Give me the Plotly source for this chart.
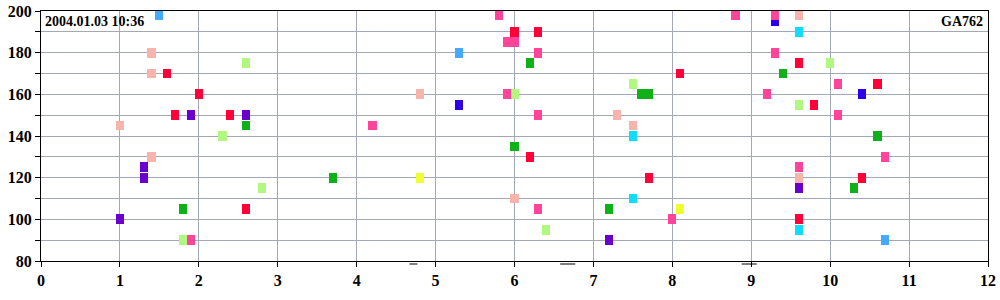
import plotly.graph_objects as go

# ---- data (x position, y value) per colour group ----
salmon_x = [1.4, 1.4, 1.0, 1.4, 4.8, 6.0, 7.3, 7.5, 9.6, 9.6]
salmon_y = [180, 170, 145, 130, 160, 110, 150, 145, 198, 120]
lightgreen_x = [2.6, 2.3, 2.8, 1.8, 6.0, 6.4, 7.5, 10.0, 9.6]
lightgreen_y = [175, 140, 115, 90, 160, 95, 165, 175, 155]
green_x = [2.6, 1.8, 3.7, 6.2, 6.0, 7.6, 7.7, 7.2, 9.4, 10.6, 10.3]
green_y = [145, 105, 120, 175, 135, 160, 160, 105, 170, 140, 115]
purple_x = [1.9, 2.6, 1.3, 1.3, 1.0, 7.2, 9.6]
purple_y = [150, 150, 125, 120, 100, 90, 115]
blue_x = [5.3, 9.3, 10.4]
blue_y = [155, 195, 160]
cyan_x = [7.5, 7.5, 9.6, 9.6]
cyan_y = [140, 110, 190, 95]
lightblue_x = [1.5, 5.3, 10.7]
lightblue_y = [198, 180, 90]
yellow_x = [4.8, 8.1]
yellow_y = [120, 105]
red_x = [1.6, 2.0, 1.7, 2.4, 2.6, 6.0, 6.3, 6.2, 8.1, 7.7, 9.6, 9.8, 10.6, 10.4, 9.6]
red_y = [170, 160, 150, 150, 105, 190, 190, 130, 170, 120, 175, 155, 165, 120, 100]
pink_x = [1.9, 4.2, 5.8, 5.9, 6.0, 6.3, 5.9, 6.3, 6.3, 8.0, 8.8, 9.3, 9.3, 9.2, 10.1, 10.1, 10.7, 9.6]
pink_y = [90, 145, 198, 185, 185, 180, 160, 150, 105, 100, 198, 198, 180, 160, 165, 150, 130, 125]

# small dashes just below the x axis (start, end in x units)
dash_x0 = [4.65, 6.56, 8.86]
dash_x1 = [4.77, 6.77, 9.07]

x_ticks = list(range(0, 13))
y_major = list(range(80, 201, 20))

title_left = "2004.01.03 10:36"
title_right = "GA762"

groups = [
    (salmon_x, salmon_y, "#f8b4ac"),
    (lightgreen_x, lightgreen_y, "#b0f880"),
    (green_x, green_y, "#10b018"),
    (purple_x, purple_y, "#6a00cc"),
    (blue_x, blue_y, "#2c00e8"),
    (cyan_x, cyan_y, "#10dcff"),
    (lightblue_x, lightblue_y, "#44aaff"),
    (yellow_x, yellow_y, "#f0ff30"),
    (red_x, red_y, "#ff0038"),
    (pink_x, pink_y, "#ff4499"),
]

H = 4.7    # box height in y units
W = 0.103  # box width in x units

fig = go.Figure()
for xs, ys, col in groups:
    fig.add_trace(go.Bar(
        x=xs, y=[H] * len(ys), base=[v - H / 2 for v in ys], width=W,
        marker=dict(color=col, line=dict(width=0)), showlegend=False,
        hoverinfo="skip",
    ))

font = dict(family="Liberation Serif", size=14, color="black", weight=700)
tfont = dict(family="Liberation Serif", size=16, color="black", weight=700)
grid = "#a4a7b5"

annotations = [
    dict(text=title_left, xref="paper", yref="paper", x=0, y=1,
         xanchor="left", yanchor="top", showarrow=False, xshift=2, yshift=-1,
         font=font),
    dict(text=title_right, xref="paper", yref="paper", x=1, y=1,
         xanchor="right", yanchor="top", showarrow=False, xshift=-3, yshift=-1,
         font=font),
]
for a, b in zip(dash_x0, dash_x1):
    annotations.append(dict(
        text="", xref="x", yref="paper", x=b, y=0, axref="x", ax=a,
        ayref="pixel", ay=0, yshift=-3, showarrow=True, arrowhead=0,
        arrowwidth=1.2, arrowcolor="black", standoff=0, startstandoff=0,
    ))

fig.update_layout(
    width=1000, height=300,
    margin=dict(l=41, r=12, t=11, b=39, pad=0),
    paper_bgcolor="white", plot_bgcolor="white",
    barmode="overlay", bargap=0,
    font=font,
    xaxis=dict(range=[0, 12], tickvals=x_ticks, ticktext=[str(v) for v in x_ticks],
               automargin=False,
               showgrid=True, gridcolor=grid, gridwidth=1, zeroline=False,
               showline=True, linecolor="black", linewidth=1, mirror=True,
               ticks="outside", ticklen=5, tickcolor="black", tickfont=tfont),
    yaxis=dict(range=[80, 200], tickvals=y_major, ticktext=[str(v) for v in y_major],
               automargin=False,
               showgrid=True, gridcolor=grid, gridwidth=1, zeroline=False,
               showline=True, linecolor="black", linewidth=1, mirror=True,
               ticks="outside", ticklen=5, tickcolor="black", tickfont=tfont,
               minor=dict(dtick=10, tick0=80, ticks="outside", ticklen=5,
                          tickcolor="black", showgrid=True, gridcolor=grid, gridwidth=1)),
    annotations=annotations,
)

fig.write_html("out.html")
